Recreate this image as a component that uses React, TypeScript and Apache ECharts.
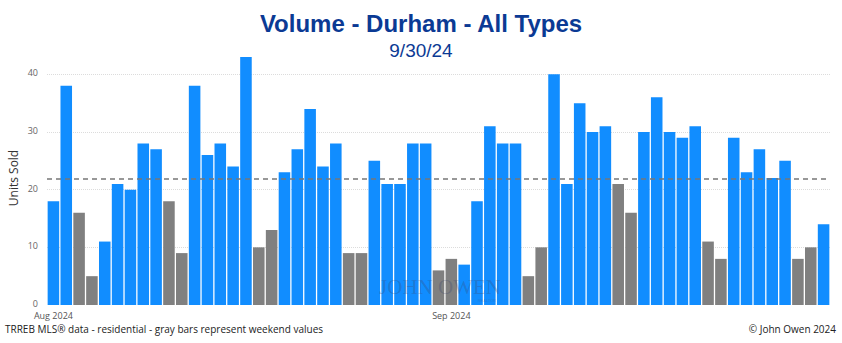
import React, { useEffect, useRef } from "react";
import * as echarts from "echarts";

const augValues = [18, 38, 16, 5, 11, 21, 20, 28, 27, 18, 9, 38, 26, 28, 24, 43, 10, 13, 23, 27, 34, 24, 28, 9, 9, 25, 21, 21, 28, 28, 6];
const sepValues = [8, 7, 18, 31, 28, 28, 5, 10, 40, 21, 35, 30, 31, 21, 16, 30, 36, 30, 29, 31, 11, 8, 29, 23, 27, 22, 25, 8, 10, 14];
const yTicks = [0, 10, 20, 30, 40];

const BLUE = "#118DFF";
const GRAY = "#808080";

function buildDays() {
  const days: { date: Date; value: number }[] = [];
  augValues.forEach((v, i) => days.push({ date: new Date(2024, 7, i + 1), value: v }));
  sepValues.forEach((v, i) => days.push({ date: new Date(2024, 8, i + 1), value: v }));
  return days;
}

export default function App() {
  const ref = useRef<HTMLDivElement>(null);
  useEffect(() => {
    if (!ref.current) return;
    const chart = echarts.init(ref.current, undefined, { renderer: "svg" });
    const days = buildDays();
    const cats = days.map((d) => `${d.date.getMonth() + 1}/${d.date.getDate()}`);
    const data = days.map((d) => {
      const wd = d.date.getDay();
      const weekend = wd === 0 || wd === 6;
      return { value: d.value, itemStyle: { color: weekend ? GRAY : BLUE } };
    });
    const maxV = Math.max(...days.map((d) => d.value));
    chart.setOption({
      animation: false,
      backgroundColor: "#fff",
      title: [
        {
          text: "Volume - Durham - All Types",
          left: "center",
          top: 6,
          textStyle: { color: "#0B3A94", fontSize: 24, fontWeight: "bold", fontFamily: "Liberation Sans" },
        },
        {
          text: "9/30/24",
          left: "center",
          top: 36,
          textStyle: { color: "#0B3A94", fontSize: 19, fontWeight: "normal", fontFamily: "Liberation Sans" },
        },
      ],
      grid: { left: 47, right: 12, top: 57, bottom: 38 },
      xAxis: {
        type: "category",
        data: cats,
        axisLine: { show: false },
        axisTick: { show: false },
        axisLabel: {
          interval: (i: number) => i === 0 || i === augValues.length,
          formatter: (v: string, i: number) => (i === 0 ? "Aug 2024" : "Sep 2024"),
          color: "#555",
          fontSize: 9,
          lineHeight: 9,
          fontFamily: "Open Sans",
          margin: 6,
        },
      },
      yAxis: {
        type: "value",
        min: yTicks[0],
        max: maxV,
        interval: 10,
        axisLine: { show: false },
        axisTick: { show: false },
        axisLabel: {
          showMaxLabel: false,
          color: "#666",
          fontSize: 9,
          lineHeight: 9,
          fontFamily: "Open Sans",
          margin: 9,
          verticalAlign: "bottom",
          padding: [0, 0, -3, 0],
        },
        splitLine: {
          show: true,
          lineStyle: {
            type: "dotted",
            color: ["transparent", "#dcdcdc", "#dcdcdc", "#dcdcdc", "#dcdcdc", "transparent"],
          },
        },
      },
      graphic: [
        {
          type: "text",
          x: 13,
          y: 178,
          rotation: Math.PI / 2,
          style: {
            text: "Units Sold",
            fontSize: 12,
            fontFamily: "Open Sans",
            fill: "#333",
            align: "center",
            verticalAlign: "middle",
          },
        },
        {
          type: "text",
          left: 5,
          top: 324,
          style: { text: "TRREB MLS\u00AE data - residential - gray bars represent weekend values", fontSize: 10, lineHeight: 10, fontFamily: "Open Sans", fill: "#222" },
        },
        {
          type: "text",
          right: 6,
          top: 324,
          style: { text: "\u00A9 John Owen 2024", fontSize: 10, lineHeight: 10, fontFamily: "Open Sans", fill: "#222" },
        },
        {
          type: "text",
          x: 440,
          y: 287,
          z: 100,
          style: {
            text: "JOHN OWEN",
            fontSize: 21,
            fontFamily: "Liberation Serif",
            fill: "rgba(60,70,110,0.3)",
            align: "center",
            verticalAlign: "middle",
          },
        },
        {
          type: "text",
          x: 487,
          y: 300,
          z: 100,
          style: {
            text: "REALTOR",
            fontSize: 4,
            fontFamily: "Liberation Sans",
            fill: "rgba(60,70,110,0.3)",
            align: "center",
            verticalAlign: "middle",
          },
        },
      ],
      series: [
        {
          type: "bar",
          data,
          barCategoryGap: "10%",
          markLine: {
            silent: true,
            symbol: "none",
            label: { show: false },
            lineStyle: { type: [5, 4], color: "#777", width: 1.5 },
            data: [{ type: "average" }],
          },
        },
      ],
    });
    return () => chart.dispose();
  }, []);
  return <div ref={ref} style={{ position: "fixed", left: 0, top: 0, width: 842, height: 343 }} />;
}
